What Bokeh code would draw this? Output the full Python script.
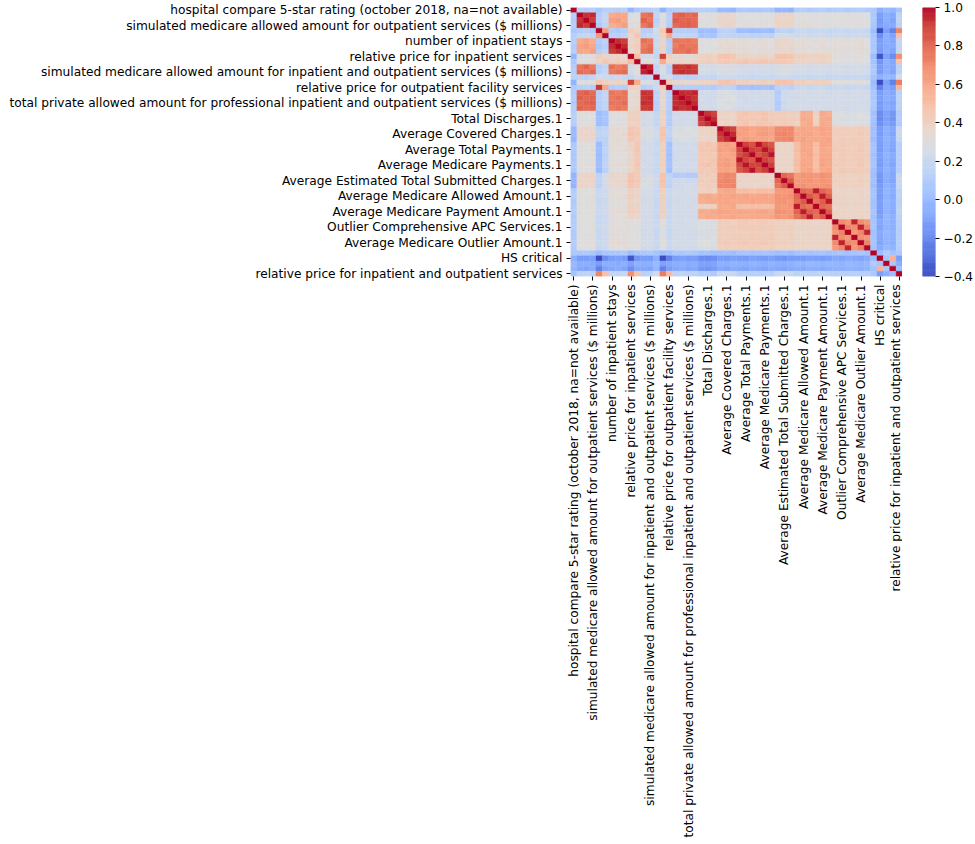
import math
from bokeh.plotting import figure
from bokeh.layouts import row
from bokeh.models import ColumnDataSource, LinearColorMapper, FixedTicker, Range1d
from bokeh.embed import file_html
from bokeh.resources import INLINE

names = [
    "hospital compare 5-star rating (october 2018, na=not available)",
    "number of outpatient services",
    "total private allowed amount for outpatient services ($ millions)",
    "simulated medicare allowed amount for outpatient services ($ millions)",
    "relative price for outpatient services",
    "private allowed amount per outpatient service",
    "number of inpatient stays",
    "total private allowed amount for inpatient services ($ millions)",
    "simulated medicare allowed amount for inpatient services ($ millions)",
    "relative price for inpatient services",
    "private allowed amount per inpatient stay",
    "total private allowed amount for inpatient and outpatient services ($ millions)",
    "simulated medicare allowed amount for inpatient and outpatient services ($ millions)",
    "number of professional services",
    "relative price for inpatient facility services",
    "relative price for outpatient facility services",
    "total private allowed amount for professional inpatient services ($ millions)",
    "total private allowed amount for professional outpatient services ($ millions)",
    "total private allowed amount for professional inpatient and outpatient services ($ millions)",
    "simulated medicare allowed amount for professional services ($ millions)",
    "Total Discharges",
    "Total Discharges.1",
    "Total Discharges.2",
    "Average Covered Charges",
    "Average Covered Charges.1",
    "Average Covered Charges.2",
    "Average Total Payments",
    "Average Total Payments.1",
    "Average Total Payments.2",
    "Average Medicare Payments",
    "Average Medicare Payments.1",
    "Average Medicare Payments.2",
    "Average Estimated Total Submitted Charges",
    "Average Estimated Total Submitted Charges.1",
    "Average Estimated Total Submitted Charges.2",
    "Average Medicare Allowed Amount",
    "Average Medicare Allowed Amount.1",
    "Average Medicare Allowed Amount.2",
    "Average Medicare Payment Amount",
    "Average Medicare Payment Amount.1",
    "Average Medicare Payment Amount.2",
    "Outlier Comprehensive APC Services",
    "Outlier Comprehensive APC Services.1",
    "Outlier Comprehensive APC Services.2",
    "Average Medicare Outlier Amount",
    "Average Medicare Outlier Amount.1",
    "Average Medicare Outlier Amount.2",
    "HS rural",
    "HS critical",
    "HS teaching",
    "HS critical access",
    "relative price for inpatient and outpatient services",
]

tick_idx = list(range(0, 52, 3))

# lower triangle of the correlation matrix (row i holds columns 0..i)
corr_lower = [
    [1.00],
    [0.12, 1.00],
    [0.10, 0.93, 1.00],
    [0.13, 0.95, 0.91, 1.00],
    [0.07, 0.10, 0.12, 0.09, 1.00],
    [0.11, 0.17, 0.19, 0.16, 0.64, 1.00],
    [0.12, 0.58, 0.62, 0.57, 0.10, 0.14, 1.00],
    [0.10, 0.61, 0.64, 0.60, 0.08, 0.13, 0.94, 1.00],
    [0.13, 0.60, 0.59, 0.63, 0.11, 0.16, 0.91, 0.95, 1.00],
    [-0.02, 0.27, 0.30, 0.28, 0.42, 0.37, 0.36, 0.38, 0.35, 1.00],
    [0.08, 0.31, 0.29, 0.33, 0.39, 0.46, 0.41, 0.43, 0.40, 0.50, 1.00],
    [0.10, 0.76, 0.81, 0.75, 0.12, 0.16, 0.78, 0.74, 0.77, 0.24, 0.30, 1.00],
    [0.11, 0.79, 0.77, 0.80, 0.13, 0.18, 0.75, 0.78, 0.79, 0.26, 0.31, 0.96, 1.00],
    [0.14, 0.16, 0.14, 0.17, 0.25, 0.22, 0.20, 0.22, 0.19, 0.18, 0.25, 0.16, 0.18, 1.00],
    [-0.03, 0.30, 0.28, 0.31, 0.45, 0.40, 0.37, 0.39, 0.36, 0.90, 0.58, 0.27, 0.28, 0.22, 1.00],
    [0.09, 0.12, 0.14, 0.11, 0.92, 0.60, 0.10, 0.12, 0.11, 0.40, 0.38, 0.12, 0.14, 0.24, 0.42, 1.00],
    [0.10, 0.80, 0.83, 0.79, 0.12, 0.17, 0.76, 0.74, 0.77, 0.33, 0.36, 0.93, 0.92, 0.14, 0.35, 0.12, 1.00],
    [0.11, 0.82, 0.80, 0.81, 0.13, 0.18, 0.75, 0.78, 0.76, 0.34, 0.37, 0.92, 0.94, 0.15, 0.36, 0.13, 0.95, 1.00],
    [0.09, 0.79, 0.81, 0.82, 0.11, 0.16, 0.77, 0.76, 0.79, 0.32, 0.35, 0.94, 0.93, 0.13, 0.34, 0.11, 0.94, 0.96, 1.00],
    [0.12, 0.81, 0.79, 0.80, 0.12, 0.17, 0.74, 0.77, 0.75, 0.35, 0.38, 0.91, 0.92, 0.14, 0.37, 0.12, 0.96, 0.93, 0.95, 1.00],
    [0.12, 0.30, 0.32, 0.29, 0.02, 0.05, 0.30, 0.31, 0.29, 0.40, 0.41, 0.25, 0.26, 0.18, 0.38, 0.10, 0.24, 0.25, 0.23, 0.24, 1.00],
    [0.13, 0.31, 0.29, 0.30, 0.03, 0.06, 0.31, 0.29, 0.30, 0.41, 0.42, 0.26, 0.25, 0.19, 0.39, 0.11, 0.25, 0.23, 0.24, 0.26, 0.93, 1.00],
    [0.11, 0.29, 0.31, 0.30, 0.02, 0.05, 0.29, 0.30, 0.31, 0.39, 0.40, 0.24, 0.25, 0.17, 0.37, 0.10, 0.23, 0.24, 0.25, 0.23, 0.90, 0.94, 1.00],
    [0.00, 0.36, 0.38, 0.35, 0.15, 0.16, 0.33, 0.34, 0.32, 0.46, 0.44, 0.27, 0.28, 0.22, 0.46, 0.15, 0.28, 0.27, 0.29, 0.28, 0.38, 0.39, 0.37, 1.00],
    [0.01, 0.37, 0.36, 0.38, 0.16, 0.17, 0.34, 0.33, 0.35, 0.47, 0.45, 0.28, 0.27, 0.23, 0.47, 0.16, 0.29, 0.28, 0.27, 0.29, 0.39, 0.38, 0.40, 0.93, 1.00],
    [-0.01, 0.35, 0.37, 0.36, 0.14, 0.15, 0.32, 0.35, 0.33, 0.45, 0.43, 0.26, 0.28, 0.21, 0.45, 0.14, 0.27, 0.29, 0.28, 0.27, 0.37, 0.38, 0.36, 0.90, 0.95, 1.00],
    [0.08, 0.30, 0.31, 0.29, 0.02, 0.15, 0.32, 0.33, 0.31, 0.38, 0.45, 0.24, 0.25, 0.20, 0.40, 0.04, 0.24, 0.23, 0.25, 0.24, 0.45, 0.46, 0.44, 0.62, 0.63, 0.61, 1.00],
    [0.09, 0.31, 0.30, 0.32, 0.03, 0.16, 0.33, 0.32, 0.34, 0.39, 0.46, 0.25, 0.24, 0.21, 0.41, 0.05, 0.25, 0.24, 0.23, 0.25, 0.46, 0.45, 0.47, 0.63, 0.62, 0.64, 0.90, 1.00],
    [0.07, 0.29, 0.30, 0.31, 0.01, 0.14, 0.31, 0.32, 0.30, 0.37, 0.44, 0.23, 0.24, 0.19, 0.39, 0.03, 0.23, 0.24, 0.24, 0.23, 0.44, 0.45, 0.43, 0.61, 0.60, 0.62, 0.86, 0.91, 1.00],
    [0.08, 0.30, 0.31, 0.30, 0.02, 0.15, 0.32, 0.31, 0.32, 0.38, 0.45, 0.24, 0.25, 0.20, 0.40, 0.04, 0.24, 0.25, 0.24, 0.23, 0.45, 0.44, 0.46, 0.62, 0.63, 0.61, 0.98, 0.89, 0.85, 1.00],
    [0.09, 0.31, 0.30, 0.31, 0.03, 0.16, 0.33, 0.34, 0.32, 0.39, 0.46, 0.25, 0.24, 0.21, 0.41, 0.05, 0.25, 0.23, 0.24, 0.25, 0.46, 0.47, 0.45, 0.63, 0.64, 0.62, 0.89, 0.98, 0.90, 0.90, 1.00],
    [0.07, 0.29, 0.30, 0.30, 0.01, 0.14, 0.31, 0.30, 0.32, 0.37, 0.44, 0.23, 0.24, 0.19, 0.39, 0.03, 0.23, 0.24, 0.23, 0.24, 0.44, 0.43, 0.45, 0.61, 0.62, 0.60, 0.85, 0.90, 0.98, 0.86, 0.91, 1.00],
    [-0.02, 0.37, 0.39, 0.38, 0.15, 0.25, 0.36, 0.37, 0.35, 0.47, 0.44, 0.26, 0.27, 0.22, 0.47, 0.15, 0.10, 0.11, 0.09, 0.10, 0.42, 0.43, 0.41, 0.69, 0.71, 0.70, 0.37, 0.38, 0.36, 0.37, 0.38, 0.36, 1.00],
    [-0.01, 0.38, 0.37, 0.39, 0.16, 0.26, 0.37, 0.35, 0.36, 0.48, 0.45, 0.27, 0.28, 0.23, 0.48, 0.16, 0.22, 0.23, 0.21, 0.22, 0.43, 0.42, 0.44, 0.70, 0.72, 0.71, 0.38, 0.37, 0.39, 0.38, 0.37, 0.38, 0.80, 1.00],
    [-0.03, 0.39, 0.38, 0.37, 0.14, 0.24, 0.35, 0.36, 0.37, 0.46, 0.43, 0.28, 0.27, 0.21, 0.46, 0.14, 0.24, 0.23, 0.25, 0.24, 0.41, 0.42, 0.42, 0.71, 0.70, 0.72, 0.36, 0.37, 0.37, 0.36, 0.38, 0.37, 0.76, 0.84, 1.00],
    [0.10, 0.30, 0.31, 0.29, 0.20, 0.22, 0.32, 0.33, 0.31, 0.40, 0.38, 0.25, 0.26, 0.20, 0.40, 0.20, 0.25, 0.24, 0.26, 0.25, 0.40, 0.41, 0.39, 0.58, 0.60, 0.59, 0.50, 0.51, 0.49, 0.50, 0.51, 0.49, 0.64, 0.65, 0.66, 1.00],
    [0.11, 0.31, 0.30, 0.32, 0.21, 0.23, 0.33, 0.32, 0.34, 0.41, 0.39, 0.26, 0.25, 0.21, 0.41, 0.21, 0.26, 0.25, 0.24, 0.26, 0.58, 0.59, 0.57, 0.61, 0.60, 0.62, 0.60, 0.61, 0.59, 0.60, 0.61, 0.60, 0.67, 0.66, 0.68, 0.80, 1.00],
    [0.09, 0.29, 0.30, 0.31, 0.19, 0.21, 0.31, 0.32, 0.30, 0.39, 0.37, 0.24, 0.25, 0.19, 0.39, 0.19, 0.24, 0.25, 0.25, 0.24, 0.57, 0.58, 0.59, 0.60, 0.61, 0.59, 0.59, 0.60, 0.61, 0.59, 0.60, 0.61, 0.66, 0.67, 0.65, 0.78, 0.84, 1.00],
    [0.10, 0.30, 0.31, 0.30, 0.20, 0.22, 0.32, 0.31, 0.32, 0.40, 0.38, 0.25, 0.26, 0.20, 0.40, 0.20, 0.25, 0.26, 0.24, 0.25, 0.40, 0.39, 0.41, 0.59, 0.58, 0.60, 0.50, 0.49, 0.51, 0.50, 0.49, 0.51, 0.65, 0.64, 0.66, 0.97, 0.79, 0.77, 1.00],
    [0.11, 0.31, 0.30, 0.31, 0.21, 0.23, 0.33, 0.34, 0.32, 0.41, 0.39, 0.26, 0.25, 0.21, 0.41, 0.21, 0.26, 0.24, 0.25, 0.26, 0.59, 0.58, 0.60, 0.62, 0.61, 0.60, 0.61, 0.60, 0.60, 0.61, 0.62, 0.59, 0.68, 0.67, 0.66, 0.81, 0.97, 0.83, 0.80, 1.00],
    [0.09, 0.30, 0.29, 0.30, 0.19, 0.21, 0.31, 0.30, 0.32, 0.39, 0.37, 0.24, 0.24, 0.19, 0.39, 0.19, 0.24, 0.25, 0.24, 0.23, 0.57, 0.59, 0.58, 0.60, 0.59, 0.61, 0.59, 0.58, 0.60, 0.60, 0.59, 0.61, 0.66, 0.65, 0.67, 0.77, 0.83, 0.97, 0.78, 0.84, 1.00],
    [0.10, 0.30, 0.31, 0.29, 0.20, 0.22, 0.32, 0.31, 0.33, 0.30, 0.30, 0.25, 0.26, 0.20, 0.30, 0.20, 0.25, 0.24, 0.26, 0.25, 0.28, 0.29, 0.27, 0.42, 0.43, 0.41, 0.43, 0.44, 0.42, 0.43, 0.44, 0.42, 0.40, 0.41, 0.39, 0.37, 0.38, 0.39, 0.37, 0.38, 0.39, 1.00],
    [0.11, 0.31, 0.30, 0.31, 0.21, 0.23, 0.33, 0.32, 0.31, 0.31, 0.31, 0.26, 0.25, 0.21, 0.31, 0.21, 0.26, 0.25, 0.24, 0.26, 0.29, 0.28, 0.29, 0.43, 0.42, 0.43, 0.44, 0.43, 0.44, 0.44, 0.43, 0.44, 0.41, 0.40, 0.41, 0.38, 0.39, 0.38, 0.38, 0.39, 0.38, 0.70, 1.00],
    [0.09, 0.29, 0.30, 0.30, 0.19, 0.21, 0.31, 0.32, 0.32, 0.29, 0.29, 0.24, 0.25, 0.19, 0.29, 0.19, 0.24, 0.25, 0.25, 0.24, 0.27, 0.28, 0.28, 0.41, 0.42, 0.42, 0.42, 0.42, 0.43, 0.42, 0.42, 0.43, 0.39, 0.40, 0.40, 0.37, 0.37, 0.38, 0.37, 0.37, 0.38, 0.66, 0.72, 1.00],
    [0.10, 0.30, 0.31, 0.30, 0.20, 0.22, 0.32, 0.31, 0.32, 0.30, 0.30, 0.25, 0.26, 0.20, 0.30, 0.20, 0.25, 0.26, 0.24, 0.25, 0.28, 0.27, 0.29, 0.42, 0.41, 0.43, 0.43, 0.42, 0.44, 0.43, 0.42, 0.44, 0.40, 0.39, 0.41, 0.38, 0.37, 0.39, 0.38, 0.37, 0.39, 0.96, 0.69, 0.65, 1.00],
    [0.11, 0.31, 0.30, 0.31, 0.21, 0.23, 0.33, 0.34, 0.32, 0.31, 0.31, 0.26, 0.25, 0.21, 0.31, 0.21, 0.26, 0.24, 0.25, 0.26, 0.29, 0.30, 0.28, 0.43, 0.44, 0.42, 0.44, 0.45, 0.43, 0.44, 0.45, 0.43, 0.41, 0.42, 0.40, 0.38, 0.39, 0.38, 0.38, 0.39, 0.38, 0.69, 0.96, 0.71, 0.68, 1.00],
    [0.09, 0.29, 0.29, 0.30, 0.19, 0.21, 0.31, 0.30, 0.32, 0.29, 0.29, 0.24, 0.24, 0.19, 0.29, 0.19, 0.24, 0.25, 0.24, 0.23, 0.27, 0.28, 0.27, 0.41, 0.42, 0.41, 0.42, 0.41, 0.43, 0.42, 0.41, 0.43, 0.39, 0.40, 0.39, 0.37, 0.38, 0.37, 0.37, 0.38, 0.37, 0.65, 0.71, 0.96, 0.66, 0.72, 1.00],
    [0.08, 0.08, 0.09, 0.07, 0.02, 0.06, 0.08, 0.07, 0.09, 0.02, 0.05, 0.08, 0.09, 0.05, 0.02, 0.04, 0.08, 0.07, 0.09, 0.08, 0.04, 0.05, 0.03, 0.03, 0.04, 0.02, 0.05, 0.06, 0.04, 0.05, 0.06, 0.04, 0.03, 0.04, 0.02, 0.05, 0.06, 0.04, 0.05, 0.06, 0.04, 0.05, 0.06, 0.04, 0.05, 0.06, 0.04, 1.00],
    [-0.05, -0.12, -0.13, -0.11, -0.40, -0.18, -0.12, -0.11, -0.13, -0.37, -0.15, -0.12, -0.13, -0.05, -0.39, -0.22, -0.12, -0.11, -0.13, -0.12, -0.18, -0.19, -0.17, -0.12, -0.13, -0.11, -0.12, -0.13, -0.11, -0.12, -0.13, -0.11, -0.14, -0.15, -0.13, -0.12, -0.13, -0.11, -0.12, -0.13, -0.11, -0.08, -0.09, -0.07, -0.08, -0.09, -0.07, 0.02, 1.00],
    [0.00, -0.06, -0.05, -0.07, -0.12, -0.05, -0.06, -0.07, -0.05, -0.10, -0.04, -0.06, -0.05, 0.00, -0.10, -0.08, -0.06, -0.05, -0.07, -0.06, -0.10, -0.11, -0.09, -0.04, -0.05, -0.03, -0.04, -0.05, -0.03, -0.04, -0.05, -0.03, -0.05, -0.06, -0.04, -0.02, -0.03, -0.01, -0.02, -0.03, -0.01, -0.02, -0.03, -0.01, -0.02, -0.03, -0.01, 0.10, 0.05, 1.00],
    [-0.02, -0.08, -0.09, -0.07, -0.22, -0.10, -0.08, -0.07, -0.09, -0.18, -0.08, -0.08, -0.09, -0.02, -0.22, -0.12, -0.08, -0.07, -0.09, -0.08, -0.14, -0.15, -0.13, -0.08, -0.09, -0.07, -0.08, -0.09, -0.07, -0.08, -0.09, -0.07, -0.08, -0.09, -0.07, -0.06, -0.07, -0.05, -0.06, -0.07, -0.05, -0.04, -0.05, -0.03, -0.04, -0.05, -0.03, 0.04, 0.55, 0.08, 1.00],
    [0.05, 0.15, 0.16, 0.14, 0.72, 0.48, 0.18, 0.17, 0.19, 0.68, 0.48, 0.14, 0.15, 0.25, 0.74, 0.52, 0.15, 0.16, 0.14, 0.15, 0.10, 0.11, 0.09, 0.20, 0.21, 0.19, 0.12, 0.13, 0.11, 0.12, 0.13, 0.11, 0.20, 0.21, 0.19, 0.15, 0.16, 0.14, 0.15, 0.16, 0.14, 0.12, 0.13, 0.11, 0.12, 0.13, 0.11, 0.08, -0.12, -0.06, 0.02, 1.00],
]

cb_ticks = [-0.4, -0.2, 0.0, 0.2, 0.4, 0.6, 0.8, 1.0]
cb_labels = ["\u22120.4", "\u22120.2", "0.0", "0.2", "0.4", "0.6", "0.8", "1.0"]
v_low, v_high = -0.4, 1.0

# coolwarm colour anchors (diverging cool-to-warm)
cw = [
    (59, 76, 192), (68, 90, 204), (77, 104, 215), (87, 117, 225), (98, 130, 234),
    (108, 142, 241), (119, 154, 247), (130, 165, 251), (141, 176, 254), (152, 185, 255),
    (163, 194, 255), (174, 201, 253), (184, 208, 249), (194, 213, 244), (204, 217, 238),
    (213, 219, 230), (221, 221, 221), (229, 216, 209), (236, 211, 197), (241, 204, 185),
    (245, 196, 173), (247, 187, 160), (247, 177, 148), (247, 166, 135), (244, 154, 123),
    (241, 141, 111), (236, 127, 99), (229, 112, 88), (222, 96, 77), (213, 80, 66),
    (203, 62, 56), (192, 40, 47), (180, 4, 38),
]
palette = []
for k in range(256):
    t = k / 255 * (len(cw) - 1)
    i0 = min(int(t), len(cw) - 2)
    f = t - i0
    c = [round(cw[i0][m] + (cw[i0 + 1][m] - cw[i0][m]) * f) for m in range(3)]
    palette.append("#%02x%02x%02x" % tuple(c))

n = len(names)
for i, r in enumerate(corr_lower):
    if len(r) != i + 1:
        raise ValueError("row %d has %d values" % (i, len(r)))
full = [[0.0] * n for _ in range(n)]
for i, r in enumerate(corr_lower):
    for j, v in enumerate(r):
        full[i][j] = v
        full[j][i] = v

xs, ys, vs = [], [], []
for i in range(n):
    for j in range(n):
        xs.append(j)
        ys.append(i)
        vs.append(full[i][j])
src = ColumnDataSource(dict(x=xs, y=ys, v=vs))

mapper = LinearColorMapper(palette=palette, low=v_low, high=v_high)

FONT = "DejaVu Sans"
FS = "12.2px"
TOP = 7


def style_axis(ax):
    ax.axis_line_color = None
    ax.major_tick_out = 4
    ax.major_tick_in = 0
    ax.major_tick_line_color = "black"
    ax.minor_tick_line_color = None
    ax.major_label_text_font = FONT
    ax.major_label_text_font_size = FS
    ax.major_label_text_color = "black"
    ax.major_label_standoff = 4


p = figure(
    frame_width=332, frame_height=269,
    x_range=Range1d(-0.5, n - 0.5), y_range=Range1d(n - 0.5, -0.5),
    output_backend="svg", toolbar_location=None, tools="",
    min_border_left=570, min_border_top=TOP, min_border_right=0, min_border_bottom=5,
)
p.rect(x="x", y="y", width=1, height=1, source=src,
       fill_color={"field": "v", "transform": mapper},
       line_color={"field": "v", "transform": mapper}, line_width=0.4)
p.outline_line_color = None
p.xgrid.visible = False
p.ygrid.visible = False
overrides = {i: names[i] for i in tick_idx}
for ax in (p.xaxis[0], p.yaxis[0]):
    ax.ticker = FixedTicker(ticks=tick_idx)
    ax.major_label_overrides = overrides
    style_axis(ax)
p.xaxis.major_label_orientation = math.pi / 2

# colour bar as a narrow companion figure
nb = len(palette)
step = (v_high - v_low) / nb
cb_src = ColumnDataSource(dict(
    y=[v_low + step * (k + 0.5) for k in range(nb)],
    c=palette,
))
cbf = figure(
    frame_width=13, frame_height=269,
    x_range=Range1d(0, 1), y_range=Range1d(v_low, v_high),
    output_backend="svg", toolbar_location=None, tools="",
    x_axis_location=None, y_axis_location="right",
    min_border_left=20, min_border_top=TOP, min_border_right=8, min_border_bottom=12,
)
cbf.rect(x=0.5, y="y", width=1, height=step, source=cb_src,
         fill_color="c", line_color="c", line_width=0.6)
cbf.outline_line_color = None
cbf.xgrid.visible = False
cbf.ygrid.visible = False
cax = cbf.yaxis[0]
cax.ticker = FixedTicker(ticks=cb_ticks)
cax.major_label_overrides = {t: l for t, l in zip(cb_ticks, cb_labels)}
style_axis(cax)

layout = row(p, cbf)
open("out.html", "w").write(file_html(layout, INLINE))
